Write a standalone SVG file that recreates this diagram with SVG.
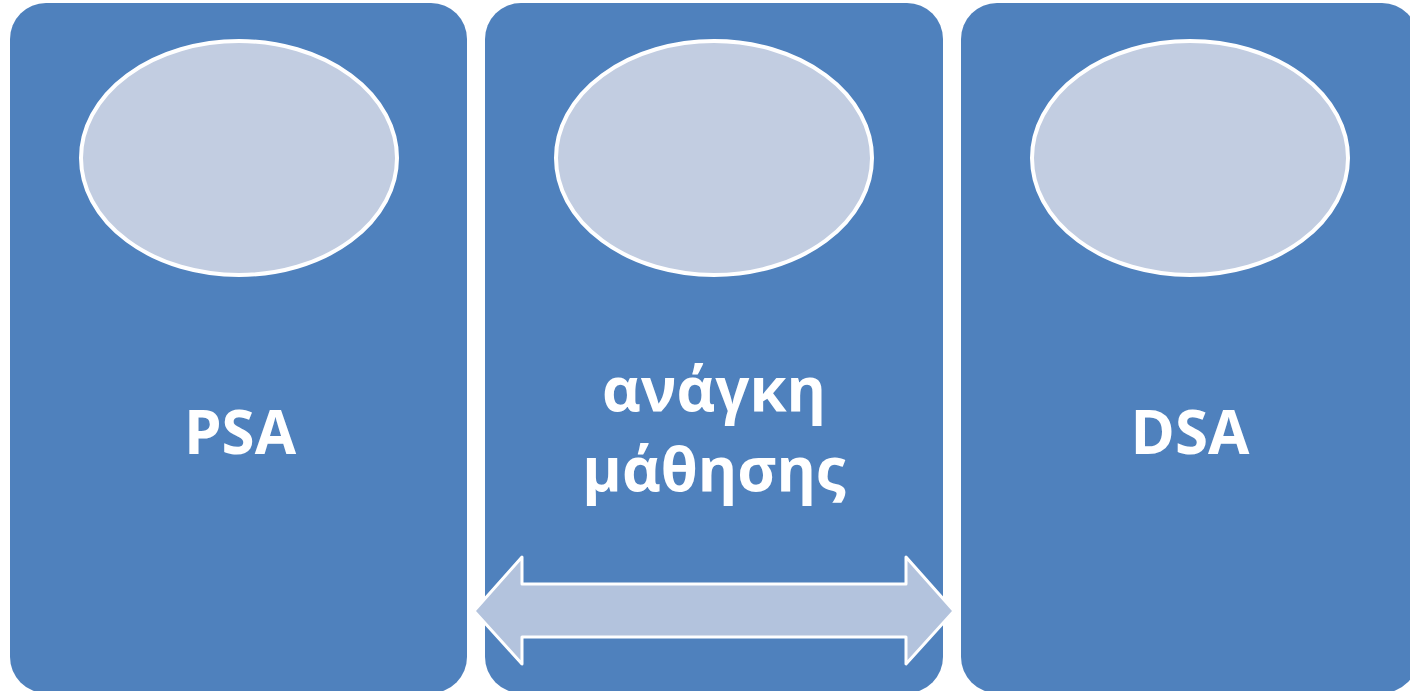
<svg xmlns="http://www.w3.org/2000/svg" width="1410" height="691" viewBox="0 0 1410 691">
<style>
.panel{fill:#4F81BD}
.oval{fill:#C2CDE1;stroke:#FFFFFF;stroke-width:4}
.lbl{font-family:"Open Sans","Noto Sans","DejaVu Sans",sans-serif;font-weight:bold;font-size:60px;fill:#FFFFFF;text-anchor:middle}
.arrow{fill:#B3C3DD;stroke:#FFFFFF;stroke-width:3;stroke-linejoin:round}
</style>
<rect x="0" y="0" width="1410" height="691" fill="#FFFFFF"/>
<g id="node-psa">
<rect class="panel" x="10" y="3" width="457" height="690" rx="36" ry="36"/>
<ellipse class="oval" cx="239" cy="158" rx="158" ry="117"/>
<text class="lbl" x="240" y="454">PSA</text>
</g>
<g id="node-need">
<rect class="panel" x="485" y="3" width="458" height="690" rx="36" ry="36"/>
<ellipse class="oval" cx="714" cy="158" rx="158" ry="117"/>
<text class="lbl" x="714" y="411">ανάγκη</text>
<text class="lbl" x="714" y="491">μάθησης</text>
</g>
<g id="node-dsa">
<rect class="panel" x="961" y="3" width="457" height="690" rx="36" ry="36"/>
<ellipse class="oval" cx="1190" cy="158" rx="158" ry="117"/>
<text class="lbl" x="1190" y="454">DSA</text>
</g>
<g id="connectors">
<path class="arrow" d="M474,611 L522,557 L522,584 L906,584 L906,557 L954,611 L906,664 L906,637 L522,637 L522,664 Z"/>
</g>
</svg>
